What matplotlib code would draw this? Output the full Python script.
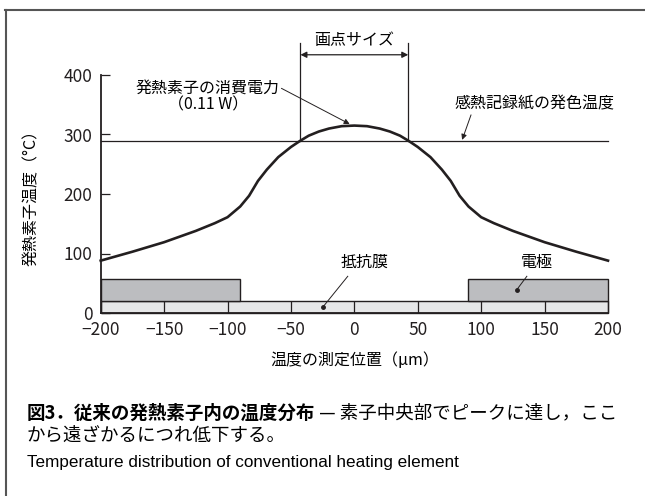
import matplotlib
matplotlib.use('Agg')
import matplotlib.pyplot as plt
from matplotlib.patches import Rectangle
from matplotlib.lines import Line2D

plt.rcParams['font.family'] = ['Noto Sans CJK JP', 'DejaVu Sans']

# temperature profile (position in um, temperature in C)
pos = [-200, -175, -150, -125, -110, -100, -90, -83, -76, -69, -60, -50, -43, -36, -28, -20, -10, 0,
       10, 20, 28, 36, 43, 50, 60, 69, 76, 83, 90, 100, 110, 125, 150, 175, 200]
temp = [88, 103, 119, 138, 151, 161, 179, 197, 222, 241, 262, 279, 289, 298, 305, 310, 314, 315,
        314, 310, 305, 298, 289, 279, 262, 241, 222, 197, 179, 161, 151, 138, 119, 103, 88]

color_temp = 289          # 感熱記録紙の発色温度
dot_edges = [-42.5, 42.5]  # 画点サイズ
film_top = 21
electrode_top = 57
electrodes = [(-200, -90), (90, 200)]

xticks = [-200, -150, -100, -50, 0, 50, 100, 150, 200]
xtick_labels = ['−200', '−150', '−100', '−50', '0', '50', '100', '150', '200']
yticks = [0, 100, 200, 300, 400]
ytick_labels = ['0', '100', '200', '300', '400']

ink = '#231f20'

fig = plt.figure(figsize=(6.45, 4.96), dpi=100)
ax = fig.add_axes([100.7 / 645, 1 - 313 / 496, 507.3 / 645, 238 / 496])
ax.set_xlim(-200, 200)
ax.set_ylim(0, 400)

# resistive film and electrodes
ax.add_patch(Rectangle((-200, 0), 400, film_top, fc='#e6e7e8', ec=ink, lw=1.0, clip_on=False, zorder=1))
for x0, x1 in electrodes:
    ax.add_patch(Rectangle((x0, film_top), x1 - x0, electrode_top - film_top,
                           fc='#bcbdc0', ec=ink, lw=1.0, clip_on=False, zorder=1))

ax.plot(pos, temp, color=ink, lw=1.9, zorder=4, clip_on=False)
ax.plot([-200, 200], [color_temp, color_temp], color=ink, lw=0.9, zorder=3, clip_on=False)

# dot size dimension
for xe in dot_edges:
    ax.plot([xe, xe], [color_temp, 453], color=ink, lw=0.9, clip_on=False)
ax.annotate('', xy=(dot_edges[1], 434), xytext=(dot_edges[0], 434), annotation_clip=False,
            arrowprops=dict(arrowstyle='<|-|>', color=ink, lw=0.9, mutation_scale=9, shrinkA=0, shrinkB=0))
ax.text(0, 458, '画点サイズ', ha='center', va='center', fontsize=11.5, clip_on=False)

# labels with leaders
ax.text(-115.5, 378, '発熱素子の消費電力', ha='center', va='center', fontsize=11.5)
ax.text(-115, 350, '（0.11 W）', ha='center', va='center', fontsize=11.5)
ax.annotate('', xy=(-3.7, 317.6), xytext=(-57.5, 377.6),
            arrowprops=dict(arrowstyle='-|>', color=ink, lw=0.7, mutation_scale=8, shrinkA=0, shrinkB=0))

ax.text(142, 351, '感熱記録紙の発色温度', ha='center', va='center', fontsize=11.5)
ax.annotate('', xy=(85, 291), xytext=(92, 333),
            arrowprops=dict(arrowstyle='-|>', color=ink, lw=0.7, mutation_scale=8, shrinkA=0, shrinkB=0))

ax.text(8, 85, '抵抗膜', ha='center', va='center', fontsize=11.5)
ax.plot([-5.2, -24.7], [61.7, 10.3], color=ink, lw=0.7)
ax.plot([-24.7], [10.3], 'o', color=ink, ms=2.5)

ax.text(144, 85, '電極', ha='center', va='center', fontsize=11.5)
ax.plot([136, 128], [61.7, 38.9], color=ink, lw=0.7)
ax.plot([128], [38.9], 'o', color=ink, ms=2.5)

# axes styling
for s in ['top', 'right']:
    ax.spines[s].set_visible(False)
for s in ['left', 'bottom']:
    ax.spines[s].set_linewidth(1.3)
    ax.spines[s].set_color(ink)
ax.set_xticks(xticks, labels=xtick_labels)
ax.set_yticks(yticks, labels=ytick_labels)
ax.tick_params(axis='x', direction='in', length=9, width=0.9, pad=6, labelsize=12.5, colors=ink)
ax.tick_params(axis='y', direction='in', length=6.5, width=0.9, pad=6, labelsize=12.5, colors=ink)
ax.set_xlabel('温度の測定位置（μm）', fontsize=11.5)
ax.set_ylabel('発熱素子温度（°C）', fontsize=11.5)
ax.xaxis.set_label_coords(0.5, -0.165)
ax.yaxis.set_label_coords(-0.12, 0.5)

# frame of the figure box
fig.add_artist(Line2D([5 / 645, 1], [1 - 10 / 496, 1 - 10 / 496], transform=fig.transFigure, color='#555555', lw=1.5))
fig.add_artist(Line2D([6 / 645, 6 / 645], [0, 1 - 10 / 496], transform=fig.transFigure, color='#555555', lw=1.5))

# caption
t1 = fig.text(27 / 645, 1 - 413 / 496, '図3．従来の発熱素子内の温度分布', fontsize=13.3, weight='bold', va='center')
fig.canvas.draw()
bb = t1.get_window_extent()
fig.text(bb.x1 / 645, 1 - 413 / 496, ' — 素子中央部でピークに達し，ここ', fontsize=13.3, va='center')
fig.text(27 / 645, 1 - 436 / 496, 'から遠ざかるにつれ低下する。', fontsize=13.3, va='center')
fig.text(27 / 645, 1 - 463 / 496, 'Temperature distribution of conventional heating element',
         fontsize=12.3, va='center', family=['Liberation Sans Narrow', 'Liberation Sans'])

fig.savefig('out.png', dpi=100)
